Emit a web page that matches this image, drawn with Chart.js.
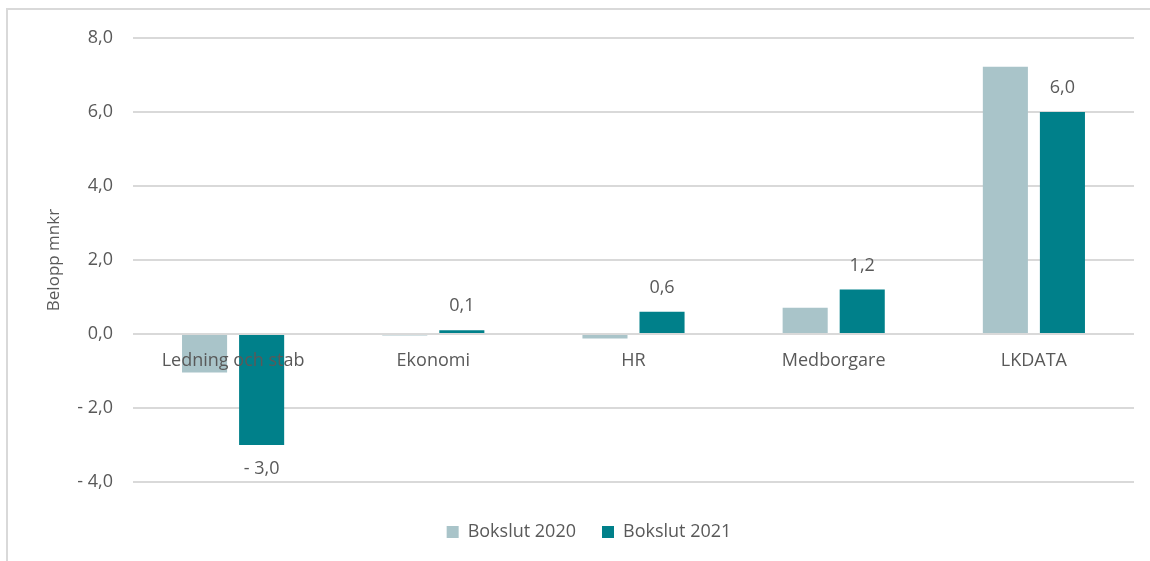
<!DOCTYPE html>
<html><head><meta charset="utf-8">
<script src="https://cdn.jsdelivr.net/npm/chart.js@4/dist/chart.umd.min.js"></script>
<style>
html,body{margin:0;padding:0;background:#fff;}
#wrap{position:relative;width:1150px;height:561px;overflow:hidden;}
#frame{position:absolute;left:6px;top:8px;right:-4px;bottom:-4px;border-top:2px solid #d9d9d9;border-left:2px solid #d9d9d9;pointer-events:none}
canvas{position:absolute;left:0;top:0}
</style></head><body>
<div id="wrap"><canvas id="c" width="1150" height="561"></canvas><div id="frame"></div></div>
<script>
const categories = ['Ledning och stab', 'Ekonomi', 'HR', 'Medborgare', 'LKDATA'];
const seriesNames = ['Bokslut 2020', 'Bokslut 2021'];
const bokslut2020 = [-1.04, -0.04, -0.12, 0.71, 7.22];
const bokslut2021 = [-3.0, 0.1, 0.6, 1.2, 6.0];
const yMin = -4, yMax = 8, yStep = 2;
const yTitle = 'Belopp mnkr';

const TEXT = '#595959';
const fmt = v => (v < 0 ? '- ' : '') + Math.abs(v).toFixed(1).replace('.', ',');

Chart.defaults.font.family = '"Open Sans", sans-serif';
Chart.defaults.color = TEXT;

const valueLabels = {
  id: 'valueLabels',
  afterDatasetsDraw(chart) {
    const ctx = chart.ctx;
    const meta = chart.getDatasetMeta(1);
    const data = chart.data.datasets[1].data;
    ctx.save();
    ctx.font = '18px "Open Sans", sans-serif';
    ctx.fillStyle = TEXT;
    ctx.textAlign = 'center';
    ctx.textBaseline = 'middle';
    meta.data.forEach((bar, i) => {
      const v = data[i];
      ctx.fillText(fmt(v), bar.x, v >= 0 ? bar.y - 24 : bar.y + 24);
    });
    ctx.restore();
  }
};

new Chart(document.getElementById('c'), {
  type: 'bar',
  data: {
    labels: categories,
    datasets: [
      { label: seriesNames[0], data: bokslut2020, backgroundColor: '#A9C4C9', categoryPercentage: 0.57, barPercentage: 0.79 },
      { label: seriesNames[1], data: bokslut2021, backgroundColor: '#00808A', categoryPercentage: 0.57, barPercentage: 0.79 }
    ]
  },
  options: {
    responsive: false,
    animation: false,
    layout: { padding: { left: 44, right: 16, top: 38, bottom: 10 } },
    scales: {
      x: {
        position: { y: 0 },
        grid: { display: false, drawTicks: false },
        border: { display: false },
        ticks: { z: 1, padding: 16, font: { size: 18 }, color: TEXT, maxRotation: 0, autoSkip: false }
      },
      y: {
        min: yMin, max: yMax,
        afterFit: s => { s.width = 89; },
        grid: { color: '#d9d9d9', lineWidth: 2, drawTicks: false },
        border: { display: false },
        ticks: { stepSize: yStep, padding: 20, font: { size: 18 }, color: TEXT, callback: v => fmt(v) },
        title: { display: true, text: yTitle, font: { size: 17 }, color: TEXT, padding: 0 }
      }
    },
    plugins: {
      legend: {
        position: 'bottom',
        title: { display: true, text: ' ', font: { size: 10 }, padding: { top: 3, bottom: 0 } },
        labels: { boxWidth: 12, boxHeight: 12, padding: 26, font: { size: 18 }, color: TEXT }
      },
      tooltip: { enabled: false }
    }
  },
  plugins: [valueLabels]
});
</script>
</body></html>
